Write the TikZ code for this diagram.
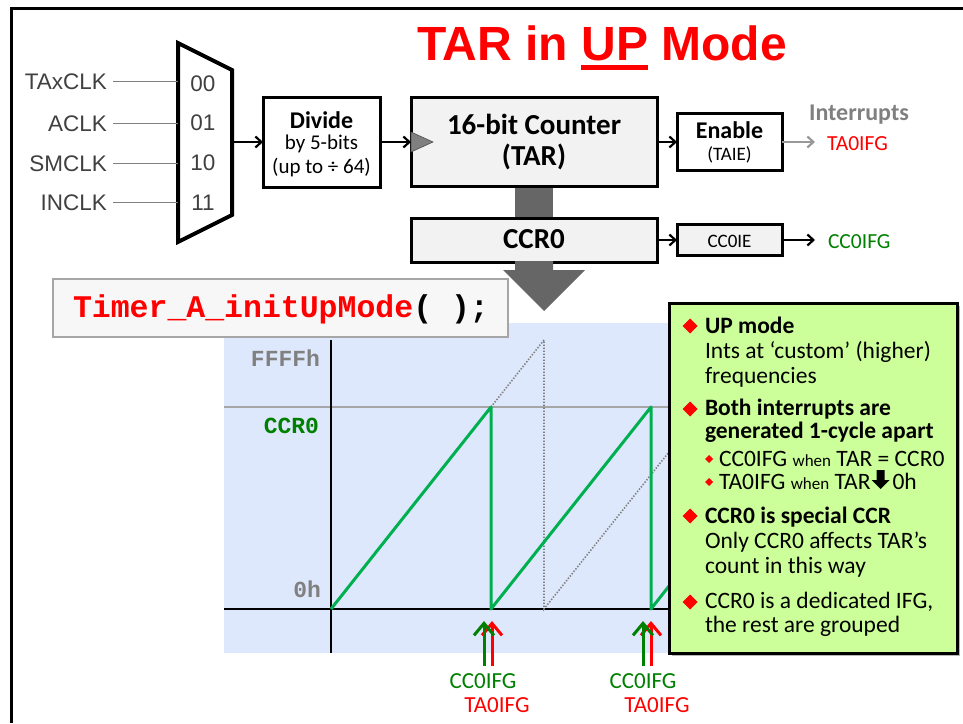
\documentclass[tikz,border=0pt]{standalone}
\usepackage{fontspec}
\setmainfont{Carlito}
\newfontfamily\arialf{Liberation Sans}
\newfontfamily\courf{Liberation Mono}
\usetikzlibrary{arrows.meta,shadows}
\newcommand\myfs[1]{\fontsize{#1}{#1}\selectfont}
\definecolor{tired}{RGB}{255,0,0}
\definecolor{tigreen}{RGB}{0,128,0}
\definecolor{sawgreen}{RGB}{0,176,80}
\definecolor{chartbg}{RGB}{222,232,252}
\definecolor{notegreen}{RGB}{204,255,153}
\definecolor{boxgray}{RGB}{242,242,242}
\definecolor{bigarrow}{RGB}{102,102,102}
\definecolor{labgray}{RGB}{64,64,64}
\definecolor{chgray}{RGB}{128,128,128}
\definecolor{codebg}{RGB}{247,247,247}
\begin{document}
\begin{tikzpicture}[x=1pt,y=-1pt,
  txt/.style={inner sep=0pt, outer sep=0pt},
  blk/.style={draw=black, line width=3pt, inner sep=0pt, outer sep=0pt, fill=white},
  arr/.style={line width=2.2pt, -{Straight Barb[length=6pt,width=11pt]}},
  inl/.style={line width=1.2pt, draw=chgray},
  upg/.style={line width=3pt, draw=tigreen, -{Straight Barb[length=12pt,width=20pt]}},
  upr/.style={line width=3pt, draw=tired, -{Straight Barb[length=12pt,width=20pt]}},
  saw/.style={line width=3pt, draw=sawgreen, line join=round},
  dots/.style={line width=1.6pt, draw=chgray, dash pattern=on 1.4pt off 1.6pt},
  lab/.style={txt, font=\arialf\myfs{22.5}, text=labgray},
  note/.style={txt, anchor=base west, font=\myfs{23.5}},
  noteb/.style={txt, anchor=base west, font=\bfseries\myfs{23.5}},
]
\useasboundingbox (0,0) rectangle (963,723);
\fill[white] (0,0) rectangle (963,723);
% frame
\draw[line width=3pt] (11,723) -- (11,8) -- (963,8);

% title
\node[txt, anchor=base west, font=\arialf\bfseries\myfs{48}, text=tired] (t1) at (417,60) {TAR in};
\node[txt, anchor=base west, font=\arialf\bfseries\myfs{48}, text=tired] (t2) at ([xshift=13.3pt]t1.base east) {UP};
\node[txt, anchor=base west, font=\arialf\bfseries\myfs{48}, text=tired] (t3) at ([xshift=13.3pt]t2.base east) {Mode};
\draw[tired, line width=5pt] ([yshift=-7.5pt]t2.base west) -- ([yshift=-7.5pt]t2.base east);

% mux
\draw[line width=4pt, fill=white, line join=miter] (178,43) -- (232,70) -- (232,215) -- (178,242) -- cycle;
\coordinate (m00) at (178,81);
\coordinate (m01) at (178,123);
\coordinate (m10) at (178,163);
\coordinate (m11) at (178,202);
\coordinate (mo) at (232,142);
\node[lab, anchor=base] at (203,91) {00};
\node[lab, anchor=base] at (203,130) {01};
\node[lab, anchor=base] at (203,170) {10};
\node[lab, anchor=base] at (203,210) {11};
\node[lab, anchor=base east] (tax) at (107,89) {TAxCLK};
\node[lab, anchor=base east] (acl) at (107,131) {ACLK};
\node[lab, anchor=base east] (smc) at (107,171) {SMCLK};
\node[lab, anchor=base east] (inc) at (107,210) {INCLK};
\draw[inl] ([xshift=6pt]tax.east) -- (tax.east -| m00);
\draw[inl] ([xshift=6pt]acl.east) -- (acl.east -| m01);
\draw[inl] ([xshift=6pt]smc.east) -- (smc.east -| m10);
\draw[inl] ([xshift=6pt]inc.east) -- (inc.east -| m11);

% divide
\node[blk, minimum width=117pt, minimum height=90pt] (div) at (321.5,142) {};
\node[txt, anchor=base, font=\bfseries\myfs{24}] at (321.5,128) {Divide};
\node[txt, anchor=base, font=\myfs{21}] at (321.5,149) {by 5-bits};
\node[txt, anchor=base, font=\myfs{21}] at (321.5,173) {(up to ÷ 64)};
\draw[arr] (mo) -- (div.west);

% gray bar between counter and CCR0
\fill[bigarrow] (515,186) rectangle (553,219);

% counter
\node[blk, fill=boxgray, minimum width=246pt, minimum height=89pt] (cnt) at (534,142) {};
\fill[chgray, draw=black!70, line width=0.6pt] (411,132) -- (433,142) -- (411,152) -- cycle;
\node[txt, anchor=base, font=\bfseries\myfs{29}] at (534,134) {16-bit Counter};
\node[txt, anchor=base, font=\bfseries\myfs{29}] at (534,165) {(TAR)};
\draw[arr] (div.east) -- (cnt.west);

% enable
\node[blk, minimum width=105pt, minimum height=57pt] (en) at (729.5,142) {};
\node[txt, anchor=base, font=\bfseries\myfs{24}] at (729.5,138) {Enable};
\node[txt, anchor=base, font=\myfs{19}] at (729.5,160) {(TAIE)};
\draw[arr] (cnt.east) -- (en.west);
\coordinate (taend) at (815,142);
\draw[arr, draw=chgray!80] (en.east) -- (taend);
\node[txt, anchor=base, font=\bfseries\myfs{24}, text=chgray] at (859,120) {Interrupts};
\node[txt, anchor=base west, font=\myfs{21.5}, text=tired] at (827,150) {TA0IFG};

% CCR0
\node[blk, fill=boxgray, minimum width=246pt, minimum height=44pt] (ccr) at (534,240) {};
\node[txt, anchor=base, font=\bfseries\myfs{29}] at (534,248) {CCR0};
\node[blk, fill=boxgray, minimum width=105pt, minimum height=31pt] (cie) at (729.5,240) {};
\node[txt, anchor=base, font=\myfs{19}] at (729.5,247) {CC0IE};
\draw[arr] (ccr.east) -- (cie.west);
\coordinate (ccend) at (815,240);
\draw[arr] (cie.east) -- (ccend);
\node[txt, anchor=base west, font=\myfs{21.5}, text=tigreen] at (828,248) {CC0IFG};

% big arrow
\fill[bigarrow] (515,261) -- (553,261) -- (553,270) -- (585,270) -- (544,311) -- (503,270) -- (515,270) -- cycle;

% chart
\fill[chartbg] (224,323) rectangle (672,653);
\draw[line width=1.5pt, draw=chgray!70] (224,407) -- (672,407);
\draw[line width=1.3pt] (331,340) -- (331,653);
\draw[line width=1.3pt] (224,609) -- (672,609);
\draw[dots] (491,407) -- (544,340) -- (544,609) -- (669,452);
\draw[saw] (331,609) -- (491,407) -- (491,609) -- (651,407) -- (651,609) -- (669,586);
\node[txt, anchor=base east, font=\courf\bfseries\myfs{23}, text=chgray] at (320,366) {FFFFh};
\node[txt, anchor=base east, font=\courf\bfseries\myfs{23}, text=tigreen] at (319,433) {CCR0};
\node[txt, anchor=base east, font=\courf\bfseries\myfs{23}, text=chgray] at (321,597) {0h};

% code box
\node[draw=black!35, line width=1.5pt, fill=codebg, minimum width=455pt, minimum height=58pt, inner sep=0pt] (code) at (280.5,308) {};
\node[txt, anchor=base west, font=\courf\bfseries\myfs{31.5}] at (73,317) {\textcolor{tired}{Timer\_A\_initUpMode}( );};

% interrupt arrows
\node[txt, anchor=base, font=\myfs{23}, text=tigreen] (c1) at (483,688) {CC0IFG};
\node[txt, anchor=base, font=\myfs{23}, text=tired] (r1) at (497,712) {TA0IFG};
\node[txt, anchor=base, font=\myfs{23}, text=tigreen] (c2) at (643,688) {CC0IFG};
\node[txt, anchor=base, font=\myfs{23}, text=tired] (r2) at (657,712) {TA0IFG};
\coordinate (g1) at (484,666); \coordinate (g1t) at (484,621);
\coordinate (h1) at (492,666); \coordinate (h1t) at (492,621);
\coordinate (g2) at (643,666); \coordinate (g2t) at (643,621);
\coordinate (h2) at (651,666); \coordinate (h2t) at (651,621);
\draw[upr] (h1) -- (h1t);
\draw[upg] (g1) -- (g1t);
\draw[upr] (h2) -- (h2t);
\draw[upg] (g2) -- (g2t);

% note box
\node[draw=black, line width=3pt, fill=notegreen, minimum width=288pt, minimum height=350pt, inner sep=0pt,
  drop shadow={shadow xshift=3pt, shadow yshift=-3pt, fill=black!55}] (gb) at (813,478) {};
\foreach \yy in {326,409,516,602}{
  \fill[tired] (690,\yy) +(-7.5,0) -- +(0,-7.5) -- +(7.5,0) -- +(0,7.5) -- cycle;
}
\foreach \yy in {459,482}{
  \fill[tired] (709,\yy) +(-4,0) -- +(0,-4) -- +(4,0) -- +(0,4) -- cycle;
}
\node[noteb] at (705,333) {UP mode};
\node[note] at (705,358) {Ints at ‘custom’ (higher)};
\node[note] at (705,383) {frequencies};
\node[noteb] at (705,415) {Both interrupts are};
\node[noteb] at (705,438) {generated 1-cycle apart};
\node[note] at (719,466) {CC0IFG {\myfs{17}when} TAR = CCR0};
\node[note] (tal) at (719,489) {TA0IFG {\myfs{17}when} TAR};
\fill (tal.base east) ++(10,0) -- ++(-9,-9) -- ++(5,0) -- ++(0,-10) -- ++(8,0) -- ++(0,10) -- ++(5,0) -- cycle;
\path (tal.base east) ++(22,0) node[note] {0h};
\node[noteb] at (705,523) {CCR0 is special CCR};
\node[note] at (705,548) {Only CCR0 affects TAR’s};
\node[note] at (705,573) {count in this way};
\node[note] at (705,608) {CCR0 is a dedicated IFG,};
\node[note] at (705,632) {the rest are grouped};
\end{tikzpicture}
\end{document}
